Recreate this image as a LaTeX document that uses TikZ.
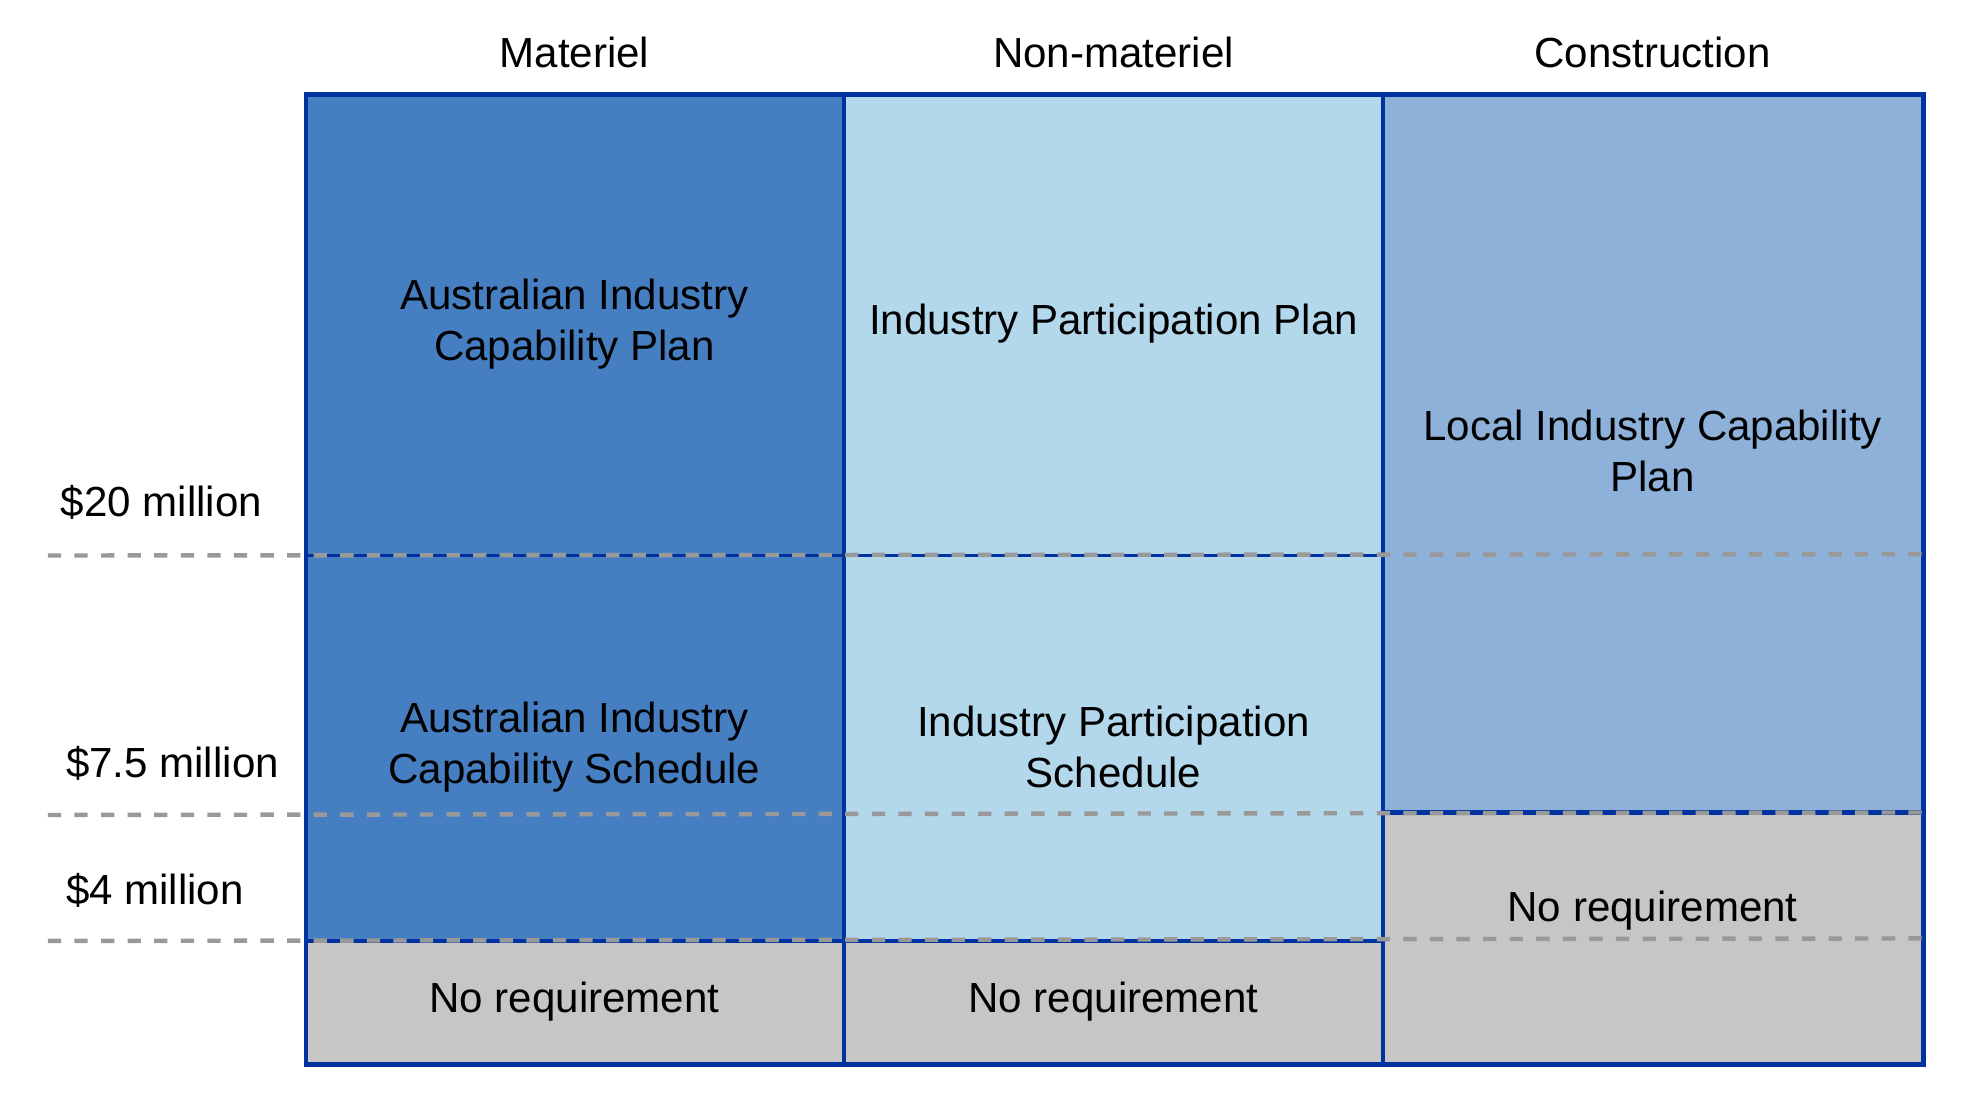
\documentclass[tikz,border=0pt]{standalone}
\usepackage{fontspec}
\setmainfont{Liberation Sans}
\usetikzlibrary{positioning}
\definecolor{mat}{HTML}{457FC2}
\definecolor{nonmat}{HTML}{B3D8EC}
\definecolor{constr}{HTML}{8EB1DA}
\definecolor{nreq}{HTML}{C6C6C6}
\definecolor{edge}{HTML}{0033A0}
\definecolor{dash}{HTML}{999999}

\begin{document}
\begin{tikzpicture}[x=0.01cm, y=-0.01cm, font=\fontsize{9.5}{11.5}\selectfont,
    cell/.style={draw=edge, line width=1pt},
    lbl/.style={align=center},
    thr/.style={anchor=west},
    cut/.style={draw=dash, dashed, line width=1pt}]
    \useasboundingbox (0,0) rectangle (1560,872);
    % cells
    \path[cell, fill=mat] (243,75) rectangle (670,747);
    \path[cell, fill=nonmat] (670,75) rectangle (1098,747);
    \path[cell, fill=constr] (1098,75) rectangle (1527,645);
    \path[cell, fill=nreq] (243,747) rectangle (670,845);
    \path[cell, fill=nreq] (670,747) rectangle (1098,845);
    \path[cell, fill=nreq] (1098,645) rectangle (1527,845);
    \draw[edge, line width=0.6pt] (243,441) -- (1098,441);
    % column heads
    \node (mat) at (456,42) {Materiel};
    \node (nonmat) at (884,42) {Non-materiel};
    \node (constr) at (1312,42) {Construction};
    % cell texts
    \node[lbl] (aicp) at (456,257) {Australian Industry\\Capability Plan};
    \node[lbl] (ipp) at (884,257) {Industry Participation Plan};
    \node[lbl] (licp) at (1312,358) {Local Industry Capability\\Plan};
    \node[lbl] (aics) at (456,593) {Australian Industry\\Capability Schedule};
    \node[lbl] (ips) at (884,593) {Industry Participation\\Schedule};
    \node[lbl] (nr1) at (456,795) {No requirement};
    \node[lbl] (nr2) at (884,795) {No requirement};
    \node[lbl] (nr3) at (1312,723) {No requirement};
    % thresholds
    \node[thr] (t20) at (36,399) {\$20 million};
    \node[thr] (t75) at (40,606) {\$7.5 million};
    \node[thr] (t4) at (40,707) {\$4 million};
    \draw[cut] (38,441) -- (1527,440);
    \draw[cut] (38,647) -- (1527,645);
    \draw[cut] (38,747) -- (1527,745);
\end{tikzpicture}
\end{document}
